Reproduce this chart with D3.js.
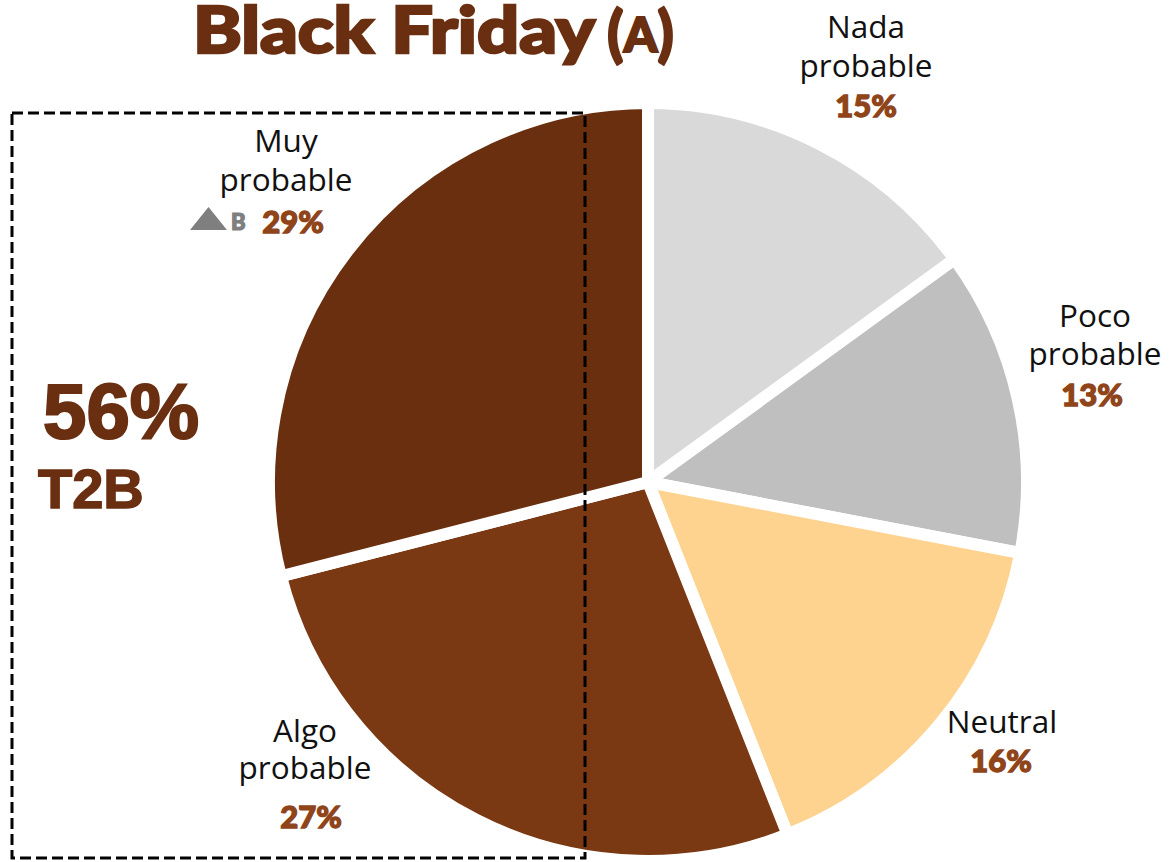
<!DOCTYPE html>
<html>
<head>
<meta charset="utf-8">
<script src="https://cdn.jsdelivr.net/npm/d3@7"></script>
<style>
  html, body { margin: 0; padding: 0; background: #ffffff; }
  svg { display: block; }
</style>
</head>
<body>
<svg id="chart" width="1173" height="862"></svg>
<script>
// Survey answers, in clockwise order starting at 12 o'clock
const categories = ["Nada probable", "Poco probable", "Neutral", "Algo probable", "Muy probable"];
const values = [15, 13, 16, 27, 29];
const sliceColors = ["#D9D9D9", "#BFBFBF", "#FED28F", "#7A3813", "#692F0F"];
// Text lines of each label (category name split over lines)
const labelLines = [["Nada", "probable"], ["Poco", "probable"], ["Neutral"], ["Algo", "probable"], ["Muy", "probable"]];
const titleText = "Black Friday";
const titleTag = "A";
const topTwoBox = { value: "56%", caption: "T2B" };
const sigMarker = "B";

const W = 1173, H = 862;
const cx = 648, cy = 482;
const outerR = 379;
const brown = "#6A2F11";
const pctColor = "#8F441A";

const svg = d3.select("#chart");

const pie = d3.pie().sort(null).value(d => d)(values);
const arc = d3.arc().innerRadius(0).outerRadius(outerR);

const g = svg.append("g").attr("transform", `translate(${cx},${cy})`);
g.selectAll("path.slice")
  .data(pie)
  .join("path")
  .attr("class", "slice")
  .attr("d", arc)
  .attr("fill", (d, i) => sliceColors[i])
  .attr("stroke", "#ffffff")
  .attr("stroke-width", 12)
  .attr("stroke-linejoin", "miter");

// Label block placement (centre x, first baseline, line gap, percentage baseline)
const labelLayout = [
  { x: 866, y: 38, gap: 39, py: 117, px: 866 },
  { x: 1095, y: 327, gap: 38, py: 406, px: 1092 },
  { x: 1002, y: 733, gap: 38, py: 772, px: 1001 },
  { x: 305, y: 742, gap: 37, py: 828, px: 311 },
  { x: 286, y: 152, gap: 39, py: 233, px: 293 }
];

const labels = svg.append("g");
labelLayout.forEach((L, i) => {
  labelLines[i].forEach((t, k) => {
    labels.append("text")
      .attr("x", L.x).attr("y", L.y + k * L.gap)
      .attr("text-anchor", "middle")
      .attr("font-family", "'Open Sans', sans-serif")
      .attr("font-size", 31.5)
      .attr("font-weight", 400)
      .attr("fill", "#111111")
      .text(t);
  });
  labels.append("text")
    .attr("x", L.px).attr("y", L.py)
    .attr("text-anchor", "middle")
    .attr("font-family", "Lato, sans-serif")
    .attr("font-size", 31)
    .attr("font-weight", 900)
    .attr("fill", pctColor)
    .attr("stroke", pctColor).attr("stroke-width", 1.3)
    .text(values[i] + "%");
  if (i === 4) {
    // significance marker: grey triangle and letter before the percentage
    const tx = L.px - 34;
    labels.append("path")
      .attr("d", `M${tx - 69},${L.py - 3} L${tx - 32},${L.py - 3} L${tx - 50.5},${L.py - 26} Z`)
      .attr("fill", "#7F7F7F");
    labels.append("text")
      .attr("x", tx - 28).attr("y", L.py - 3)
      .attr("font-family", "Lato, sans-serif")
      .attr("font-size", 22)
      .attr("font-weight", 900)
      .attr("fill", "#7F7F7F")
      .attr("stroke", "#7F7F7F").attr("stroke-width", 1.2)
      .text(sigMarker);
  }
});

// Title
svg.append("text")
  .attr("x", 193).attr("y", 53)
  .attr("font-family", "Lato, sans-serif")
  .attr("font-weight", 900)
  .attr("font-size", 65)
  .attr("textLength", 402)
  .attr("lengthAdjust", "spacingAndGlyphs")
  .attr("fill", brown)
  .attr("stroke", brown).attr("stroke-width", 2.5)
  .text(titleText);

const tag = svg.append("text")
  .attr("x", 607).attr("y", 55)
  .attr("font-family", "Lato, sans-serif")
  .attr("font-weight", 900)
  .attr("fill", brown)
  .attr("stroke", brown).attr("stroke-width", 2);
tag.append("tspan").attr("font-size", 60).text("(");
tag.append("tspan").attr("font-size", 48).attr("dy", -3).text(titleTag);
tag.append("tspan").attr("font-size", 60).attr("dy", 3).text(")");

// Top-two-box highlight
svg.append("rect")
  .attr("x", 12).attr("y", 113)
  .attr("width", 573).attr("height", 745)
  .attr("fill", "none")
  .attr("stroke", "#000000")
  .attr("stroke-width", 3)
  .attr("stroke-dasharray", "11,5");

svg.append("text")
  .attr("x", 43).attr("y", 438)
  .attr("font-family", "'Liberation Sans', Arial, sans-serif")
  .attr("font-weight", 700)
  .attr("font-size", 78)
  .attr("fill", brown)
  .attr("stroke", brown).attr("stroke-width", 2.2)
  .text(topTwoBox.value);

svg.append("text")
  .attr("x", 38).attr("y", 508)
  .attr("font-family", "'Liberation Sans', Arial, sans-serif")
  .attr("font-weight", 700)
  .attr("font-size", 56)
  .attr("fill", brown)
  .attr("stroke", brown).attr("stroke-width", 1.5)
  .text(topTwoBox.caption);
</script>
</body>
</html>
